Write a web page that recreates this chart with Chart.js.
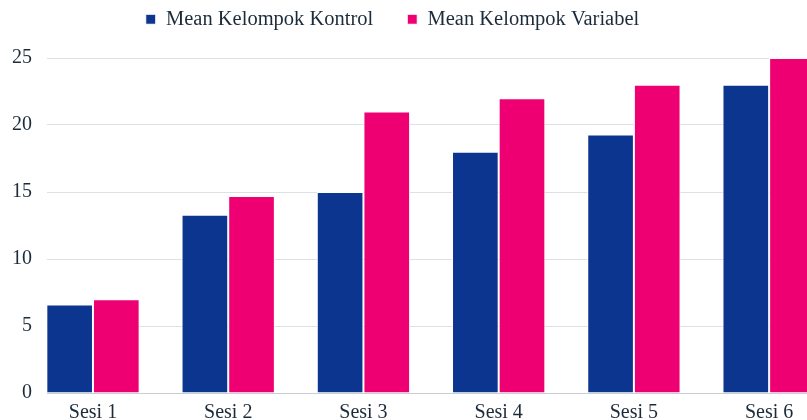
<!DOCTYPE html>
<html>
<head>
<meta charset="utf-8">
<script src="https://cdn.jsdelivr.net/npm/chart.js@4"></script>
<style>
  html, body { margin: 0; padding: 0; background: #fff; overflow: hidden; }
</style>
</head>
<body>
<canvas id="bar-chart" width="807" height="420"></canvas>
<script>
// data
const sessions = ['Sesi 1', 'Sesi 2', 'Sesi 3', 'Sesi 4', 'Sesi 5', 'Sesi 6']
const kontrol = [6.6, 13.3, 15, 18, 19.3, 23]
const variabel = [7.0, 14.7, 21, 22, 23, 25]
const yTicks = [0, 5, 10, 15, 20, 25]

const textColor = '#1c2b3a'
const serif = 'Liberation Serif'

// sessions sit at x = 1..6 on a linear axis, so the first bar can touch the left edge
const toPoints = (arr) => arr.map((v, i) => ({ x: i + 1, y: v }))

// legend is given a fixed height so the plot starts where the reference does,
// and nudged a bit left like in the reference
const legendHeight = {
   id: 'legendHeight',
   beforeInit(chart) {
      const fit = chart.legend.fit
      chart.legend.fit = function () {
         fit.bind(chart.legend)()
         this.height = 83
      }
   },
   afterLayout(chart) {
      chart.legend.left -= 11
      chart.legend.right -= 11
   },
}

const chartCanvas = document.querySelector('#bar-chart')

const barChart = new Chart(chartCanvas, {
   type: 'bar',
   data: {
      datasets: [
         {
            label: 'Mean Kelompok Kontrol',
            data: toPoints(kontrol),
            backgroundColor: '#0c358f',
            borderColor: '#ffffff',
            borderWidth: 1,
            categoryPercentage: 0.69,
            barPercentage: 1,
         },
         {
            label: 'Mean Kelompok Variabel',
            data: toPoints(variabel),
            backgroundColor: '#ee0073',
            borderColor: '#ffffff',
            borderWidth: 1,
            categoryPercentage: 0.69,
            barPercentage: 1,
         },
      ],
   },
   plugins: [legendHeight],
   options: {
      responsive: false,
      animation: false,
      layout: { padding: { top: -25, left: 0, right: 0, bottom: -11 } },
      plugins: {
         tooltip: { enabled: false },
         legend: {
            position: 'top',
            labels: {
               color: textColor,
               font: { family: serif, size: 20.5 },
               boxWidth: 10,
               boxHeight: 10,
               padding: 34,
            },
         },
      },
      scales: {
         x: {
            type: 'linear',
            offset: false,
            min: 0.66,
            max: 6.28,
            afterBuildTicks: (axis) => {
               axis.ticks = sessions.map((s, i) => ({ value: i + 1 }))
            },
            grid: { display: false },
            border: { color: '#c8ced6' },
            ticks: {
               color: textColor,
               font: { family: serif, size: 20, lineHeight: 1 },
               padding: 2,
               autoSkip: false,
               maxRotation: 0,
               callback: (value) => sessions[value - 1],
            },
         },
         y: {
            min: 0,
            max: 25,
            afterBuildTicks: (axis) => {
               axis.ticks = yTicks.map((v) => ({ value: v }))
            },
            afterFit: (axis) => { axis.width = 47 },
            grid: { color: '#dde1e6', drawTicks: false },
            border: { display: false },
            ticks: {
               color: textColor,
               font: { family: serif, size: 20 },
               padding: 15,
            },
         },
      },
   },
})
</script>
</body>
</html>
